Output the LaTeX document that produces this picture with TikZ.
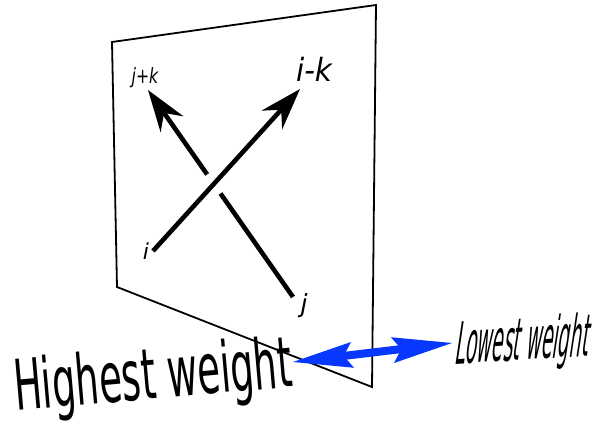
\documentclass[tikz,border=0pt]{standalone}
\usepackage{fontspec}
\setmainfont{DejaVu Sans}
\usetikzlibrary{arrows.meta,calc}
\definecolor{wblue}{RGB}{8,56,255}
\begin{document}
\begin{tikzpicture}[x=1pt,y=-1pt,
  plane/.style={draw=black,line width=1.8pt,line join=miter},
  strand/.style={line width=4.6pt,line cap=butt},
  blk/.style={-{Stealth[length=42pt,width=28pt,inset=14pt,line width=0pt]}},
  bluetip/.style={{Stealth[length=60pt,width=26pt,inset=9pt,line width=0pt]}-{Stealth[length=60pt,width=26pt,inset=9pt,line width=0pt]}},
  lbl/.style={inner sep=0pt,anchor=base}]
\useasboundingbox (0,0) rectangle (596,425);
% plane
\coordinate (p1) at (112,42);
\coordinate (p2) at (376,5);
\coordinate (p3) at (372,387);
\coordinate (p4) at (117,287);
\draw[plane] (p1) -- (p2) -- (p3) -- (p4) -- cycle;
% strands
\coordinate (iS) at (153,251);
\coordinate (iT) at (300,89);
\coordinate (jS) at (293,297);
\coordinate (jT) at (148,90);
\draw[strand] (jS) -- ($(jS)!0.50!(jT)$);
\draw[strand,blk] ($(jS)!0.592!(jT)$) -- (jT);
\draw[strand,blk] (iS) -- (iT);
% labels
\node[lbl,xscale=0.92,font=\fontsize{32}{34}\selectfont\itshape] (ik) at (314,82) {i-k};
\node[lbl,xscale=0.75,font=\fontsize{21}{22}\selectfont\itshape] (jk) at (145,84) {j+k};
\node[lbl,font=\fontsize{22}{23}\selectfont\itshape] (il) at (146,259) {i};
\node[lbl,font=\fontsize{25}{26}\selectfont\itshape] (jl) at (304,312) {j};
% weights
\node[inner sep=0pt,anchor=base west,rotate=5,xscale=0.53,font=\fontsize{70}{72}\selectfont] (hw) at (16,411) {Highest weight};
\node[inner sep=0pt,anchor=base west,rotate=3.5,xslant=0.15,xscale=0.32,font=\fontsize{58}{60}\selectfont\itshape] (lw) at (455,364) {Lowest weight};
\coordinate (hwe) at (293,362);
\coordinate (lwe) at (452,343);
\draw[wblue,line width=8pt,bluetip] (hwe) -- (lwe);
\end{tikzpicture}
\end{document}
